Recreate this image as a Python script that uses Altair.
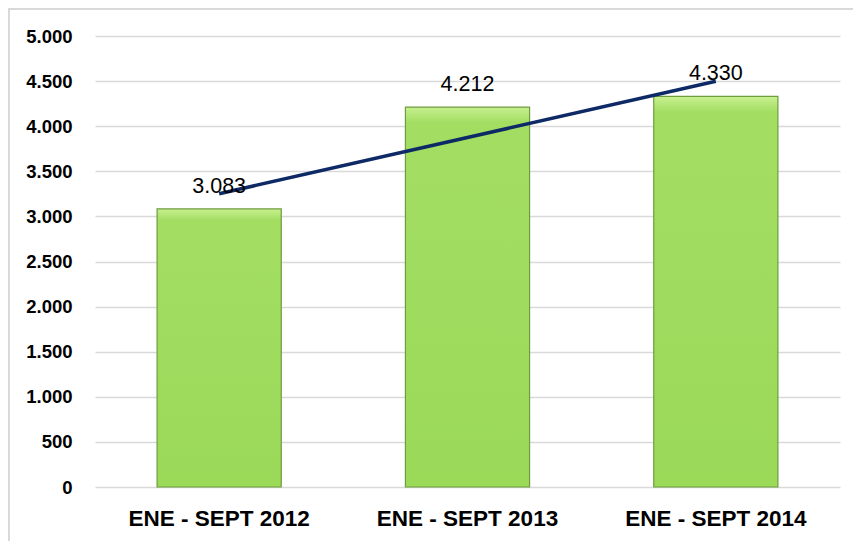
import altair as alt
import pandas as pd

periodos = ["ENE - SEPT 2012", "ENE - SEPT 2013", "ENE - SEPT 2014"]
valores = [3083, 4212, 4330]
etiquetas = ["3.083", "4.212", "4.330"]
y_ticks = [0, 500, 1000, 1500, 2000, 2500, 3000, 3500, 4000, 4500, 5000]

df = pd.DataFrame({
    "periodo": periodos,
    "valor": valores,
    "etiqueta": etiquetas,
    "idx": list(range(len(periodos))),
})

FONT = "Liberation Sans, Arial"

x_enc = alt.X(
    "periodo:N",
    sort=periodos,
    scale=alt.Scale(paddingInner=0.5, paddingOuter=0.25),
    axis=alt.Axis(
        title=None, labelAngle=0, ticks=False, domain=False,
        labelFont=FONT, labelFontSize=22.5, labelFontWeight="bold",
        labelColor="#000000", labelPadding=20, labelLimit=0,
    ),
)
y_scale = alt.Scale(domain=[0, 5000])
y_enc = alt.Y(
    "valor:Q",
    scale=y_scale,
    axis=alt.Axis(
        title=None, values=y_ticks, ticks=False, domain=False,
        labelExpr="replace(format(datum.value, ',d'), ',', '.')",
        labelFont=FONT, labelFontSize=18.5, labelFontWeight="bold",
        labelColor="#000000", labelPadding=23,
        gridColor="#d9d9d9", gridWidth=1.5,
    ),
)

base = alt.Chart(df)

border = alt.Chart(pd.DataFrame({"k": [0]})).mark_rect(
    fill=None, stroke="#d9d9d9", strokeWidth=2
).encode(
    x=alt.value(-86), x2=alt.value(900), y=alt.value(-27), y2=alt.value(600)
)

bars = base.mark_bar(
    color=alt.Gradient(
        gradient="linear", x1=0, y1=0, x2=0, y2=1,
        stops=[
            alt.GradientStop(offset=0, color="#c8f090"),
            alt.GradientStop(offset=0.04, color="#a3de63"),
            alt.GradientStop(offset=1, color="#9bd959"),
        ],
    ),
    stroke="#6f9c3e", strokeWidth=1.2,
).encode(x=x_enc, y=y_enc)

expr_cat = "[" + ",".join("'" + p + "'" for p in periodos) + "][round(datum.idx)]"
trend = base.transform_regression("idx", "valor").transform_calculate(
    periodo=expr_cat
).mark_line(color="#0e2a66", strokeWidth=3.5).encode(
    x=alt.X("periodo:N", sort=periodos),
    y=alt.Y("valor:Q"),
)

labels = base.mark_text(
    font=FONT, fontSize=21.5, color="#000000", baseline="alphabetic", dy=-16
).encode(x=alt.X("periodo:N", sort=periodos), y=alt.Y("valor:Q"), text="etiqueta:N")

chart = alt.layer(border, bars, trend, labels).properties(
    width=745, height=451,
    background="white",
    autosize=alt.AutoSizeParams(type="none"),
    padding={"left": 87, "top": 28, "right": 13, "bottom": 54},
).configure_view(stroke=None)

chart.save("out.html", embed_options={"renderer": "svg", "actions": False})
